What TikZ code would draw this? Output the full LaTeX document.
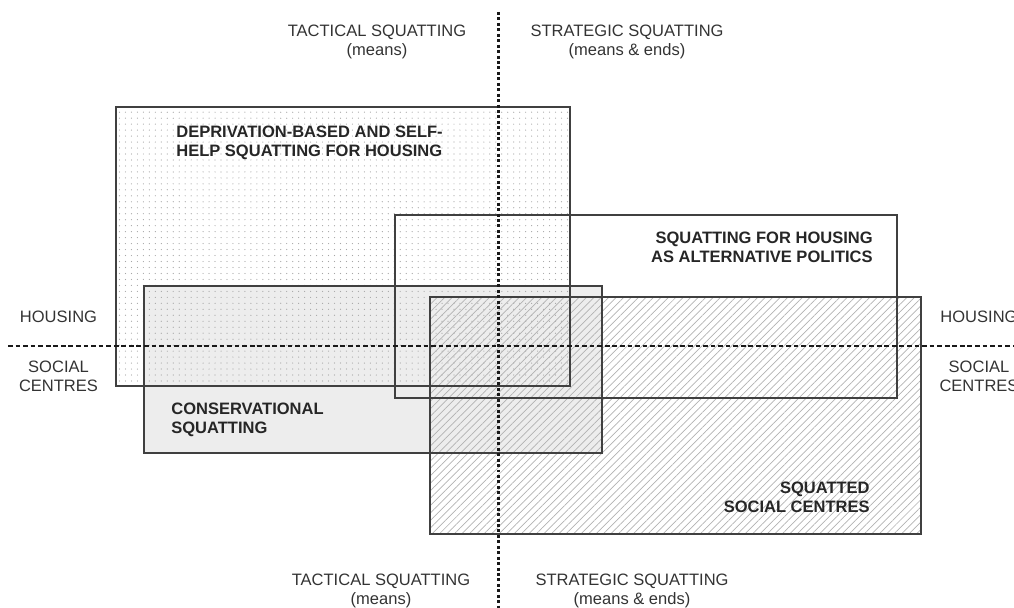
\documentclass[tikz,border=0pt]{standalone}
\usepackage{fontspec}
\setmainfont{Liberation Sans}
\usetikzlibrary{patterns.meta}
\tikzset{font=\fontsize{9.4}{10.8}\selectfont}
\tikzset{axislabel/.style={align=center,inner sep=0pt,text=black!80}}
\tikzset{boxlabel/.style={inner sep=0pt,text=black!85,font=\fontsize{9.4}{10.8}\selectfont\bfseries}}
\tikzset{region/.style={draw=black!75,line width=0.75pt}}
\tikzset{axisline/.style={line width=1.7pt,black!90}}

\begin{document}
\begin{tikzpicture}[x=0.02cm,y=-0.02cm]
  \useasboundingbox (0,0) rectangle (1014,608);
  \clip (0,0) rectangle (1014,608);
  % fills first, outlines on top
  \fill[black!7] (144,286) rectangle (602,453);
  \fill[pattern={Dots[distance=3.4pt,radius=0.35pt]},pattern color=black!35] (116,107) rectangle (570,386);
  \fill[pattern={Lines[angle=45,distance=3pt,line width=0.4pt]},pattern color=black!30] (430,297) rectangle (921,534);
  \draw[region] (116,107) rectangle (570,386);
  \draw[region] (395,215) rectangle (897,398);
  \draw[region] (144,286) rectangle (602,453);
  \draw[region] (430,297) rectangle (921,534);
  % axes
  \coordinate (top) at (498,12);
  \coordinate (bottom) at (498,608);
  \coordinate (left) at (8,346);
  \coordinate (right) at (1014,346);
  \draw[axisline,dash pattern=on 1.7pt off 1.4pt] (top)--(bottom);
  \draw[axisline,dash pattern=on 2.7pt off 1.6pt] (left)--(right);
  % axis labels
  \node[axislabel,anchor=north] (tacticaltop) at (377,25) {TACTICAL SQUATTING\\(means)};
  \node[axislabel,anchor=north] (strategictop) at (627,25) {STRATEGIC SQUATTING\\(means \& ends)};
  \node[axislabel,anchor=north] (tacticalbot) at (381,574) {TACTICAL SQUATTING\\(means)};
  \node[axislabel,anchor=north] (strategicbot) at (632,574) {STRATEGIC SQUATTING\\(means \& ends)};
  \node[axislabel,anchor=north] (housingl) at (58.5,311) {HOUSING};
  \node[axislabel,anchor=north] (sociall) at (58.5,361) {SOCIAL\\CENTRES};
  \node[axislabel,anchor=north] (housingr) at (979,311) {HOUSING};
  \node[axislabel,anchor=north] (socialr) at (979,361) {SOCIAL\\CENTRES};
  % region labels
  \node[boxlabel,align=left,anchor=north west] (deprivation) at (176,126) {DEPRIVATION-BASED AND SELF-\\HELP SQUATTING FOR HOUSING};
  \node[boxlabel,align=right,anchor=north east] (alternative) at (873,232) {SQUATTING FOR HOUSING\\AS ALTERNATIVE POLITICS};
  \node[boxlabel,align=left,anchor=north west] (conservational) at (171,403) {CONSERVATIONAL\\SQUATTING};
  \node[boxlabel,align=right,anchor=north east] (centres) at (870,482) {SQUATTED\\SOCIAL CENTRES};
\end{tikzpicture}
\end{document}
